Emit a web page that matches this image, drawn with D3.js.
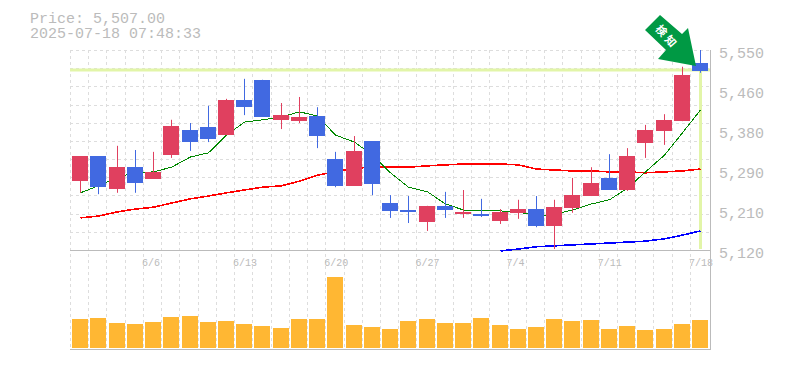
<!DOCTYPE html>
<html>
<head>
<meta charset="utf-8">
<script src="https://cdn.jsdelivr.net/npm/d3@7"></script>
<style>
html, body { margin: 0; padding: 0; background: #fff; }
svg { display: block; }
text { font-family: "Liberation Mono", monospace; fill: #bbb; }
</style>
</head>
<body>
<div id="chart"></div>
<script>
var dates = ["6/2", "6/3", "6/4", "6/5", "6/6", "6/9", "6/10", "6/11", "6/12", "6/13",
    "6/16", "6/17", "6/18", "6/19", "6/20", "6/23", "6/24", "6/25", "6/26", "6/27",
    "6/30", "7/1", "7/2", "7/3", "7/4", "7/7", "7/8", "7/9", "7/10", "7/11",
    "7/14", "7/15", "7/16", "7/17", "7/18"];
var opens = [5268, 5322, 5251, 5298, 5273, 5324, 5378, 5384, 5367, 5443,
    5486, 5400, 5397, 5408, 5316, 5258, 5354, 5221, 5206, 5180,
    5215, 5197, 5197, 5182, 5200, 5208, 5172, 5210, 5236, 5275,
    5249, 5350, 5376, 5397, 5522];
var closes = [5322, 5255, 5298, 5264, 5288, 5387, 5352, 5359, 5443, 5427,
    5406, 5410, 5406, 5365, 5258, 5333, 5262, 5204, 5202, 5215,
    5206, 5202, 5193, 5202, 5208, 5172, 5212, 5238, 5264, 5249,
    5322, 5378, 5400, 5496, 5505];
var highs = [5322, 5322, 5344, 5335, 5331, 5400, 5393, 5430, 5445, 5488,
    5486, 5436, 5449, 5427, 5331, 5365, 5354, 5238, 5236, 5215,
    5245, 5249, 5230, 5208, 5228, 5236, 5228, 5275, 5298, 5326,
    5339, 5389, 5412, 5514, 5550];
var lows = [5243, 5240, 5243, 5243, 5273, 5318, 5333, 5352, 5367, 5410,
    5406, 5380, 5393, 5339, 5255, 5258, 5238, 5189, 5178, 5161,
    5189, 5189, 5191, 5176, 5187, 5169, 5122, 5200, 5236, 5249,
    5247, 5318, 5346, 5397, 5501];
var volumes = [29, 30, 25, 24, 26, 31, 32, 26, 27, 24, 22, 20, 29, 29, 71, 23, 21, 19,
    27, 29, 25, 25, 30, 23, 19, 21, 29, 27, 28, 19, 22, 18, 19, 24, 28];
var maShort = [5243, 5258, 5277, 5286, 5288, 5298, 5320, 5329, 5367, 5395,
    5400, 5406, 5417, 5408, 5367, 5352, 5324, 5286, 5255, 5245,
    5219, 5206, 5204, 5204, 5202, 5193, 5197, 5206, 5219, 5228,
    5253, 5288, 5324, 5372, 5421];
var maMid = [5189, 5193, 5202, 5208, 5212, 5221, 5230, 5236, 5243, 5249,
    5255, 5258, 5268, 5281, 5288, 5296, 5298, 5298, 5298, 5301,
    5303, 5305, 5305, 5305, 5303, 5294, 5292, 5290, 5290, 5288,
    5288, 5286, 5288, 5290, 5294];
var maLong = [null, null, null, null, null, null, null, null, null, null,
    null, null, null, null, null, null, null, null, null, null,
    null, null, null, 5118, 5122, 5127, 5129, 5131, 5133, 5135,
    5137, 5139, 5144, 5152, 5161];
var priceTicks = [5550, 5464, 5378, 5292, 5206, 5120];
var lastPrice = 5507;
var titleLines = ["Price: 5,507.00", "2025-07-18 07:48:33"];
var arrowLabel = "検知";

var width = 785, height = 370;
var priceTop = 50, priceBottom = 250, volumeTop = 250, volumeBottom = 348;

var svg = d3.select("#chart").append("svg")
    .attr("width", width)
    .attr("height", height);

var x = d3.scaleBand().domain(d3.range(dates.length)).range([71, 709.2]).paddingInner(0);
var y = d3.scaleLinear().domain([5120, 5550]).range([priceBottom, priceTop]);
var yVol = d3.scaleLinear().domain([0, 98]).range([volumeBottom, volumeTop]);

function cx(i) {
    return Math.round(x(i) + x.bandwidth() / 2) + 0.5;
}

// dashed grid, vertical lines run through both panels
var grid = svg.append("g").attr("stroke", "#ddd").attr("stroke-dasharray", "3,3").attr("fill", "none");
grid.selectAll("line.v")
    .data(d3.range(dates.length))
    .join("line")
    .attr("class", "v")
    .attr("x1", function (d) { return Math.round(x(d)) - 0.5; })
    .attr("x2", function (d) { return Math.round(x(d)) - 0.5; })
    .attr("y1", priceTop)
    .attr("y2", 350);
grid.selectAll("line.h")
    .data(d3.range(11))
    .join("line")
    .attr("class", "h")
    .attr("x1", 70)
    .attr("x2", 710)
    .attr("y1", function (d) { return Math.round(y(5550 - d * 430 / 11)) + 0.5; })
    .attr("y2", function (d) { return Math.round(y(5550 - d * 430 / 11)) + 0.5; });

// frame
var frame = svg.append("g").attr("stroke", "#bbb").attr("stroke-width", 1);
frame.append("line").attr("x1", 70).attr("x2", 710).attr("y1", 250.5).attr("y2", 250.5);
frame.append("line").attr("x1", 70).attr("x2", 710).attr("y1", 349.5).attr("y2", 349.5);
frame.append("line").attr("x1", 710.5).attr("x2", 710.5).attr("y1", priceTop).attr("y2", 350);

// last price highlight
var hl = svg.append("g").attr("stroke", "#e2f5a8").attr("stroke-width", 3);
hl.append("line").attr("x1", 70).attr("x2", 710).attr("y1", y(lastPrice)).attr("y2", y(lastPrice));
hl.append("line").attr("x1", cx(34)).attr("x2", cx(34)).attr("y1", y(lastPrice)).attr("y2", 249);

// moving averages, no antialiasing like the original
function drawLine(values, color, w) {
    var line = d3.line()
        .defined(function (d) { return d !== null; })
        .x(function (d, i) { return cx(i); })
        .y(function (d) { return y(d); });
    svg.append("path")
        .attr("d", line(values))
        .attr("fill", "none")
        .attr("stroke", color)
        .attr("stroke-width", w)
        .attr("shape-rendering", "crispEdges");
}
drawLine(maMid, "#f00", 1.6);
drawLine(maLong, "#00f", 1.6);
drawLine(maShort, "#080", 1);

var redCandle = "#e0405f", blueCandle = "#4169e1";

function candleColor(i) {
    return closes[i] >= opens[i] ? redCandle : blueCandle;
}

// candles
var candles = svg.append("g");
candles.selectAll("line")
    .data(d3.range(dates.length))
    .join("line")
    .attr("x1", cx)
    .attr("x2", cx)
    .attr("y1", function (d) { return y(highs[d]); })
    .attr("y2", function (d) { return y(lows[d]); })
    .attr("stroke", candleColor);
candles.selectAll("rect")
    .data(d3.range(dates.length))
    .join("rect")
    .attr("x", function (d) { return cx(d) - 8.5; })
    .attr("width", 16)
    .attr("y", function (d) { return Math.round(y(Math.max(opens[d], closes[d]))); })
    .attr("height", function (d) { return Math.max(1, Math.round(Math.abs(y(opens[d]) - y(closes[d])))); })
    .attr("fill", candleColor);

// volume
svg.append("g").selectAll("rect")
    .data(volumes)
    .join("rect")
    .attr("x", function (d, i) { return cx(i) - 8.5; })
    .attr("width", 16)
    .attr("y", function (d) { return yVol(d); })
    .attr("height", function (d) { return yVol(0) - yVol(d); })
    .attr("fill", "#ffb733");

// price labels
svg.append("g").selectAll("text")
    .data(priceTicks)
    .join("text")
    .attr("x", 719)
    .attr("y", function (d, i) { return priceTop + i * 40 + 8; })
    .attr("font-size", 15)
    .text(function (d) { return d3.format(",")(Math.round(d / 10) * 10); });

// date labels, every 5th trading day
svg.append("g").selectAll("text")
    .data(d3.range(4, dates.length, 5))
    .join("text")
    .attr("x", function (d) { return x(d) - 2; })
    .attr("y", 266)
    .attr("font-size", 10)
    .text(function (d) { return dates[d]; });

// header
svg.append("g").selectAll("text")
    .data(titleLines)
    .join("text")
    .attr("x", 30)
    .attr("y", function (d, i) { return 23 + i * 15; })
    .attr("font-size", 15)
    .text(function (d) { return d; });

// arrow, placed from its tip next to the last candle
var tipX = cx(34) - 4.5, tipY = y(lastPrice) - 4;
var arrow = svg.append("g").attr("transform", "translate(" + tipX + "," + tipY + ")");
arrow.append("path")
    .attr("d", "M-36,-51 L-14,-32 L-8,-38 L0,0 L-38,-7 L-30,-16 L-51,-36 Z")
    .attr("fill", "#009944");
arrow.append("text")
    .attr("transform", "translate(-29,-29) rotate(48)")
    .attr("text-anchor", "middle")
    .attr("dy", "0.36em")
    .attr("font-size", 11)
    .attr("letter-spacing", 3)
    .attr("font-weight", "bold")
    .style("font-family", "'Noto Sans CJK JP'")
    .style("fill", "#fff")
    .text(arrowLabel);
</script>
</body>
</html>
